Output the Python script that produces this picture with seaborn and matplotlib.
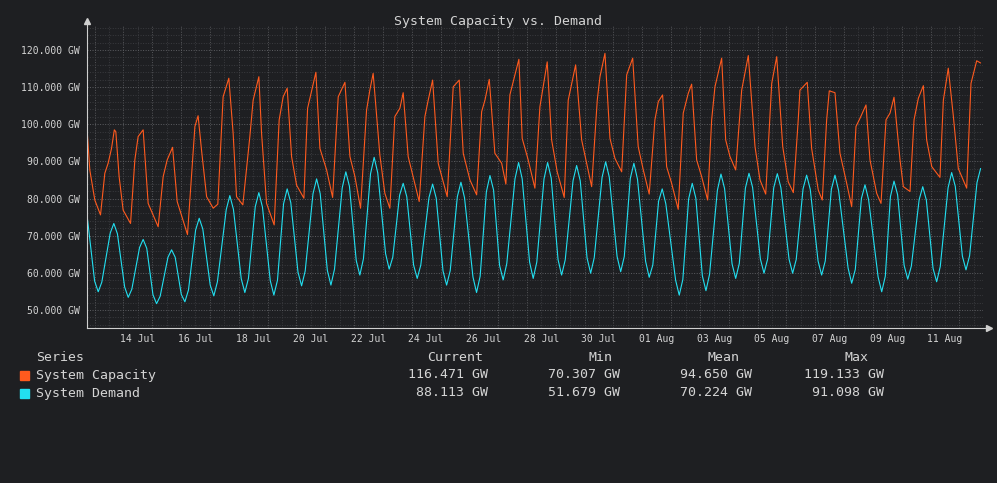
import datetime as dt
import pandas as pd
import matplotlib
matplotlib.use("Agg")
import matplotlib.pyplot as plt
import matplotlib.dates as mdates
from matplotlib.ticker import MultipleLocator, FuncFormatter, NullFormatter
from matplotlib.patches import Rectangle
import seaborn as sns

YEAR = "2024"
chart_title = "System Capacity vs. Demand"
series_names = ["System Capacity", "System Demand"]
series_colors = ["#ff5a1e", "#22dff0"]

cap_times = [
    "07-12 17:40", "07-12 20:00", "07-13 00:10", "07-13 04:55", "07-13 08:30", "07-13 11:15", "07-13 14:05",
    "07-13 16:25", "07-13 17:40", "07-13 20:25", "07-13 23:45", "07-14 05:55", "07-14 09:30", "07-14 12:15",
    "07-14 16:25", "07-14 20:35", "07-15 04:55", "07-15 09:05", "07-15 12:25", "07-15 16:55", "07-15 20:45",
    "07-16 05:20", "07-16 11:30", "07-16 14:10", "07-16 17:00", "07-16 21:15", "07-17 02:45", "07-17 06:35",
    "07-17 11:00", "07-17 15:45", "07-17 19:20", "07-17 22:10", "07-18 03:25", "07-18 09:15", "07-18 12:00",
    "07-18 16:45", "07-18 19:00", "07-18 23:10", "07-19 05:30", "07-19 09:40", "07-19 13:00", "07-19 16:20",
    "07-19 20:00", "07-20 00:10", "07-20 06:15", "07-20 09:20", "07-20 16:15", "07-20 19:35", "07-21 01:10",
    "07-21 06:10", "07-21 10:50", "07-21 16:25", "07-21 20:35", "07-22 00:45", "07-22 05:25", "07-22 10:25",
    "07-22 13:10", "07-22 15:55", "07-22 21:30", "07-23 01:40", "07-23 05:50", "07-23 10:00", "07-23 14:10",
    "07-23 16:55", "07-23 21:05", "07-24 06:15", "07-24 11:00", "07-24 13:45", "07-24 17:25", "07-24 22:05",
    "07-25 05:35", "07-25 10:35", "07-25 15:35", "07-25 18:55", "07-26 00:30", "07-26 06:05", "07-26 10:15",
    "07-26 13:00", "07-26 16:35", "07-26 21:15", "07-27 02:55", "07-27 06:25", "07-27 09:45", "07-27 17:15",
    "07-27 20:00", "07-28 01:00", "07-28 06:35", "07-28 10:45", "07-28 16:50", "07-28 20:30", "07-29 01:10",
    "07-29 07:00", "07-29 10:20", "07-29 16:30", "07-29 21:30", "07-30 01:05", "07-30 05:50", "07-30 10:30",
    "07-30 12:45", "07-30 16:55", "07-30 21:05", "07-31 01:15", "07-31 06:50", "07-31 11:00", "07-31 16:00",
    "07-31 20:35", "08-01 00:50", "08-01 05:45", "08-01 10:30", "08-01 13:20", "08-01 16:55", "08-01 20:15",
    "08-02 00:25", "08-02 05:55", "08-02 10:05", "08-02 14:15", "08-02 17:05", "08-02 21:15", "08-03 01:25",
    "08-03 06:25", "08-03 09:45", "08-03 12:30", "08-03 18:05", "08-03 21:25", "08-04 01:00", "08-04 05:45",
    "08-04 10:45", "08-04 16:15", "08-04 21:50", "08-05 02:00", "08-05 06:45", "08-05 11:45", "08-05 15:55",
    "08-05 20:55", "08-06 01:30", "08-06 05:45", "08-06 09:50", "08-06 11:15", "08-06 17:20", "08-06 21:00",
    "08-07 02:30", "08-07 05:50", "08-07 09:30", "08-07 11:40", "08-07 16:25", "08-07 20:35", "08-08 02:10",
    "08-08 06:20", "08-08 09:55", "08-08 13:15", "08-08 18:15", "08-08 21:35", "08-09 03:10", "08-09 06:45",
    "08-09 10:55", "08-09 14:15", "08-09 17:35", "08-09 22:35", "08-10 01:20", "08-10 06:55", "08-10 10:15",
    "08-10 13:50", "08-10 18:00", "08-10 20:45", "08-11 01:00", "08-11 07:50", "08-11 10:40", "08-11 14:45",
    "08-11 19:00", "08-11 23:05", "08-12 06:05", "08-12 09:40", "08-12 14:25", "08-12 17:40",
]
cap_values = [
    98.9, 87.7, 79.6, 75.6, 86.8, 89.5, 93.5,
    98.5, 98.0, 85.9, 76.9, 73.3, 90.4, 96.7,
    98.5, 78.7, 72.4, 85.9, 90.4, 93.8, 79.2,
    70.3, 99.4, 102.3, 93.1, 80.5, 77.4, 78.5,
    107.4, 112.4, 97.6, 80.5, 78.3, 96.7, 106.5,
    112.8, 97.6, 78.7, 72.9, 101.2, 107.4, 109.7,
    91.3, 83.6, 80.1, 104.3, 114.0, 93.5, 87.7,
    80.3, 107.4, 111.3, 91.3, 85.9, 77.4, 103.8,
    109.2, 113.7, 91.7, 81.4, 77.4, 102.1, 104.3,
    108.5, 91.3, 79.2, 102.1, 106.5, 111.9, 89.5,
    80.5, 110.1, 111.9, 92.2, 85.0, 81.0, 103.4,
    106.5, 112.1, 92.2, 89.5, 83.9, 107.9, 117.5,
    96.2, 90.4, 82.8, 104.7, 116.8, 95.8, 87.2,
    80.3, 106.5, 116.0, 95.8, 90.4, 83.2, 106.5,
    112.8, 119.1, 96.2, 90.8, 87.2, 113.3, 117.8,
    94.0, 87.7, 81.2, 101.2, 106.1, 107.9, 88.6,
    84.1, 77.1, 103.0, 108.3, 110.8, 90.4, 85.9,
    79.6, 101.2, 110.1, 117.8, 95.8, 91.3, 87.7,
    109.2, 118.5, 94.0, 85.0, 81.2, 111.0, 118.2,
    94.0, 84.5, 81.6, 101.2, 109.2, 111.3, 93.5,
    82.3, 79.6, 101.2, 109.0, 108.5, 92.2, 84.1,
    77.8, 99.4, 101.6, 105.2, 90.4, 81.4, 78.7,
    101.2, 103.0, 107.3, 90.4, 83.2, 81.9, 101.2,
    107.0, 110.4, 95.8, 88.6, 85.7, 106.5, 115.1,
    102.1, 88.1, 82.8, 111.0, 117.1, 116.5,
]

dem_times = [
    "07-12 17:40", "07-13 00:00", "07-13 03:00", "07-13 06:00", "07-13 13:00", "07-13 16:00", "07-13 19:00",
    "07-14 01:00", "07-14 04:00", "07-14 07:00", "07-14 13:25", "07-14 16:25", "07-14 19:25",
    "07-15 00:35", "07-15 03:35", "07-15 06:35", "07-15 13:05", "07-15 16:05", "07-15 19:05",
    "07-16 00:10", "07-16 03:10", "07-16 06:10", "07-16 12:05", "07-16 15:05", "07-16 18:05",
    "07-17 00:15", "07-17 03:15", "07-17 06:15", "07-17 13:35", "07-17 16:35", "07-17 19:35",
    "07-18 02:05", "07-18 05:05", "07-18 08:05", "07-18 13:45", "07-18 16:45", "07-18 19:45",
    "07-19 02:15", "07-19 05:15", "07-19 08:15", "07-19 13:20", "07-19 16:20", "07-19 19:20",
    "07-20 01:20", "07-20 04:20", "07-20 07:20", "07-20 13:50", "07-20 16:50", "07-20 19:50",
    "07-21 01:45", "07-21 04:45", "07-21 07:45", "07-21 14:10", "07-21 17:10", "07-21 20:10",
    "07-22 01:50", "07-22 04:50", "07-22 07:50", "07-22 13:45", "07-22 16:45", "07-22 19:45",
    "07-23 02:15", "07-23 05:15", "07-23 08:15", "07-23 13:55", "07-23 16:55", "07-23 19:55",
    "07-24 01:35", "07-24 04:35", "07-24 07:35", "07-24 14:25", "07-24 17:25", "07-24 20:25",
    "07-25 02:05", "07-25 05:05", "07-25 08:05", "07-25 14:00", "07-25 17:00", "07-25 20:00",
    "07-26 03:00", "07-26 06:00", "07-26 09:00", "07-26 14:10", "07-26 17:10", "07-26 20:10",
    "07-27 01:10", "07-27 04:10", "07-27 07:10", "07-27 14:00", "07-27 17:00", "07-27 20:00",
    "07-28 02:10", "07-28 05:10", "07-28 08:10", "07-28 14:10", "07-28 17:10", "07-28 20:10",
    "07-29 01:50", "07-29 04:50", "07-29 07:50", "07-29 14:20", "07-29 17:20", "07-29 20:20",
    "07-30 02:00", "07-30 05:00", "07-30 08:00", "07-30 14:30", "07-30 17:30", "07-30 20:30",
    "07-31 03:00", "07-31 06:00", "07-31 09:00", "07-31 14:00", "07-31 17:00", "07-31 20:00",
    "08-01 02:45", "08-01 05:45", "08-01 08:45", "08-01 13:35", "08-01 16:35", "08-01 19:35",
    "08-02 03:45", "08-02 06:45", "08-02 09:45", "08-02 14:35", "08-02 17:35", "08-02 20:35",
    "08-03 02:00", "08-03 05:00", "08-03 08:00", "08-03 14:30", "08-03 17:30", "08-03 20:30",
    "08-04 02:45", "08-04 05:45", "08-04 08:45", "08-04 13:50", "08-04 16:50", "08-04 19:50",
    "08-05 02:20", "08-05 05:20", "08-05 08:20", "08-05 13:25", "08-05 16:25", "08-05 19:25",
    "08-06 02:10", "08-06 05:10", "08-06 08:10", "08-06 13:50", "08-06 16:50", "08-06 19:50",
    "08-07 02:20", "08-07 05:20", "08-07 08:20", "08-07 13:25", "08-07 16:25", "08-07 19:25",
    "08-08 03:20", "08-08 06:20", "08-08 09:20", "08-08 14:25", "08-08 17:25", "08-08 20:25",
    "08-09 04:20", "08-09 07:20", "08-09 10:20", "08-09 14:35", "08-09 17:35", "08-09 20:35",
    "08-10 02:00", "08-10 05:00", "08-10 08:00", "08-10 14:30", "08-10 17:30", "08-10 20:30",
    "08-11 02:05", "08-11 05:05", "08-11 08:05", "08-11 14:35", "08-11 17:35", "08-11 20:35",
    "08-12 02:30", "08-12 05:30", "08-12 08:30", "08-12 14:40", "08-12 17:40",
]
dem_values = [
    75.6, 57.8, 54.9, 57.5, 70.7, 73.3, 70.5,
    56.2, 53.4, 55.6, 66.8, 69.0, 66.6,
    54.1, 51.7, 53.7, 64.2, 66.2, 64.2,
    54.2, 52.2, 55.4, 71.5, 74.7, 71.8,
    56.7, 53.8, 57.6, 77.0, 80.8, 77.1,
    58.4, 54.7, 58.5, 77.8, 81.6, 77.7,
    57.9, 54.0, 58.0, 78.6, 82.6, 78.9,
    60.2, 56.5, 60.5, 81.3, 85.3, 81.3,
    60.7, 56.7, 61.0, 82.9, 87.2, 83.3,
    63.3, 59.4, 63.8, 86.7, 91.1, 86.9,
    65.2, 61.0, 64.2, 80.9, 84.1, 80.5,
    62.1, 58.5, 62.1, 80.3, 83.9, 80.1,
    60.5, 56.7, 60.6, 80.5, 84.4, 80.2,
    58.9, 54.7, 59.1, 81.8, 86.2, 82.3,
    62.0, 58.1, 62.5, 85.3, 89.7, 85.3,
    62.9, 58.5, 62.9, 85.3, 89.7, 85.5,
    63.6, 59.4, 63.5, 84.8, 88.9, 84.8,
    64.0, 59.9, 64.1, 85.7, 89.9, 85.8,
    64.4, 60.3, 64.4, 85.4, 89.5, 85.2,
    63.1, 58.8, 62.1, 79.3, 82.6, 78.6,
    58.0, 54.0, 58.2, 79.9, 84.1, 80.1,
    59.2, 55.2, 59.6, 82.2, 86.6, 82.7,
    62.4, 58.5, 62.5, 82.8, 86.8, 83.0,
    63.7, 59.9, 63.7, 82.9, 86.7, 82.9,
    63.7, 59.9, 63.6, 82.6, 86.3, 82.5,
    63.2, 59.4, 63.2, 82.5, 86.3, 82.2,
    61.3, 57.2, 60.9, 80.0, 83.7, 79.7,
    58.9, 54.9, 59.1, 80.5, 84.7, 81.0,
    62.0, 58.3, 61.8, 79.7, 83.2, 79.6,
    61.2, 57.6, 61.7, 82.9, 87.0, 83.3,
    64.5, 60.8, 64.6, 84.3, 88.1,
]

stat_headers = ["Current", "Min", "Mean", "Max"]
cap_stats = ["116.471 GW", "70.307 GW", "94.650 GW", "119.133 GW"]
dem_stats = ["88.113 GW", "51.679 GW", "70.224 GW", "91.098 GW"]

BG = "#1e1f22"
TXT = "#d4d4d4"
AXC = "#cfcfcf"

df = pd.concat([
    pd.DataFrame({"time": pd.to_datetime([f"{YEAR}-{t}" for t in cap_times]),
                  "value": cap_values, "series": series_names[0]}),
    pd.DataFrame({"time": pd.to_datetime([f"{YEAR}-{t}" for t in dem_times]),
                  "value": dem_values, "series": series_names[1]}),
], ignore_index=True)

sns.set_theme(style="dark")
plt.rcParams["font.family"] = ["DejaVu Sans Mono", "DejaVu Sans"]

W, H = 997, 483
fig = plt.figure(figsize=(W / 100, H / 100), dpi=100, facecolor=BG)
L, R, T, B = 87, 983, 26, 328
ax = fig.add_axes([L / W, (H - B) / H, (R - L) / W, (B - T) / H])
ax.set_facecolor(BG)

sns.lineplot(data=df, x="time", y="value", hue="series",
             palette=dict(zip(series_names, series_colors)),
             estimator=None, linewidth=0.8, legend=False, ax=ax, zorder=3)

ax.set_xlim(pd.Timestamp(f"{YEAR}-07-12 17:40"), pd.Timestamp(f"{YEAR}-08-12 19:40"))
ax.set_ylim(45.15, 126.46)
ax.set_xlabel("")
ax.set_ylabel("")

ax.yaxis.set_major_locator(MultipleLocator(10))
ax.yaxis.set_minor_locator(MultipleLocator(2))
ax.yaxis.set_major_formatter(FuncFormatter(lambda v, p: f"{v:.3f} GW"))

first_label_day = dt.date(2024, 7, 14)


def xfmt(v, pos):
    d = mdates.num2date(v)
    if (d.date() - first_label_day).days % 2 == 0:
        return d.strftime("%d %b")
    return ""


ax.xaxis.set_major_locator(mdates.DayLocator())
ax.xaxis.set_minor_locator(mdates.HourLocator(byhour=[12]))
ax.xaxis.set_major_formatter(NullFormatter())
ax.xaxis.set_minor_formatter(FuncFormatter(xfmt))

dots = (0, (1, 1.6))
ax.grid(True, which="major", axis="y", color="#5d5e62", linestyle=dots, linewidth=0.7)
ax.grid(True, which="minor", axis="y", color="#3a3b3f", linestyle=dots, linewidth=0.7)
ax.grid(True, which="major", axis="x", color="#55565a", linestyle=dots, linewidth=0.7)
ax.grid(True, which="minor", axis="x", color="#3a3b3f", linestyle=dots, linewidth=0.7)
ax.set_axisbelow(True)

ax.tick_params(which="both", length=0)
ax.tick_params(axis="y", which="major", labelsize=7, labelcolor=TXT, pad=5)
ax.tick_params(axis="x", which="minor", labelsize=7, labelcolor=TXT, pad=4)

for s in ["top", "right"]:
    ax.spines[s].set_visible(False)
for s in ["left", "bottom"]:
    ax.spines[s].set_color(AXC)
    ax.spines[s].set_linewidth(0.8)
    ax.spines[s].set_zorder(4)

ytop = (B - 21) / (B - T)
xright = (989 - L) / (R - L)
ax.plot([0, 0], [1, ytop], color=AXC, lw=0.8, transform=ax.transAxes, clip_on=False)
ax.plot([0], [ytop], marker="^", markersize=4, color=AXC, transform=ax.transAxes, clip_on=False)
ax.plot([1, xright], [0, 0], color=AXC, lw=0.8, transform=ax.transAxes, clip_on=False)
ax.plot([xright], [0], marker=">", markersize=4, color=AXC, transform=ax.transAxes, clip_on=False)


def fx(x):
    return x / W


def fy(y):
    return 1 - y / H


fig.text(fx(498), fy(24.5), chart_title, ha="center", va="baseline", fontsize=9.5, color=TXT)

LEG = 9.5
fig.text(fx(36), fy(361), "Series", ha="left", va="baseline", fontsize=LEG, color=TXT)
header_right = [483.5, 612, 739, 868]
value_right = [488, 620, 752, 884]
for hdr, xr in zip(stat_headers, header_right):
    fig.text(fx(xr), fy(361), hdr, ha="right", va="baseline", fontsize=LEG, color=TXT)

rows = [(series_names[0], series_colors[0], cap_stats, 378.5),
        (series_names[1], series_colors[1], dem_stats, 396.5)]
for name, col, stats, yb in rows:
    fig.patches.append(Rectangle((fx(20), fy(yb + 1)), 9 / W, 9 / H,
                                 transform=fig.transFigure, color=col, zorder=5))
    fig.text(fx(36), fy(yb), name, ha="left", va="baseline", fontsize=LEG, color=TXT)
    for val, xr in zip(stats, value_right):
        fig.text(fx(xr), fy(yb), val, ha="right", va="baseline", fontsize=LEG, color=TXT)

fig.savefig("out.png", dpi=100, facecolor=BG)
